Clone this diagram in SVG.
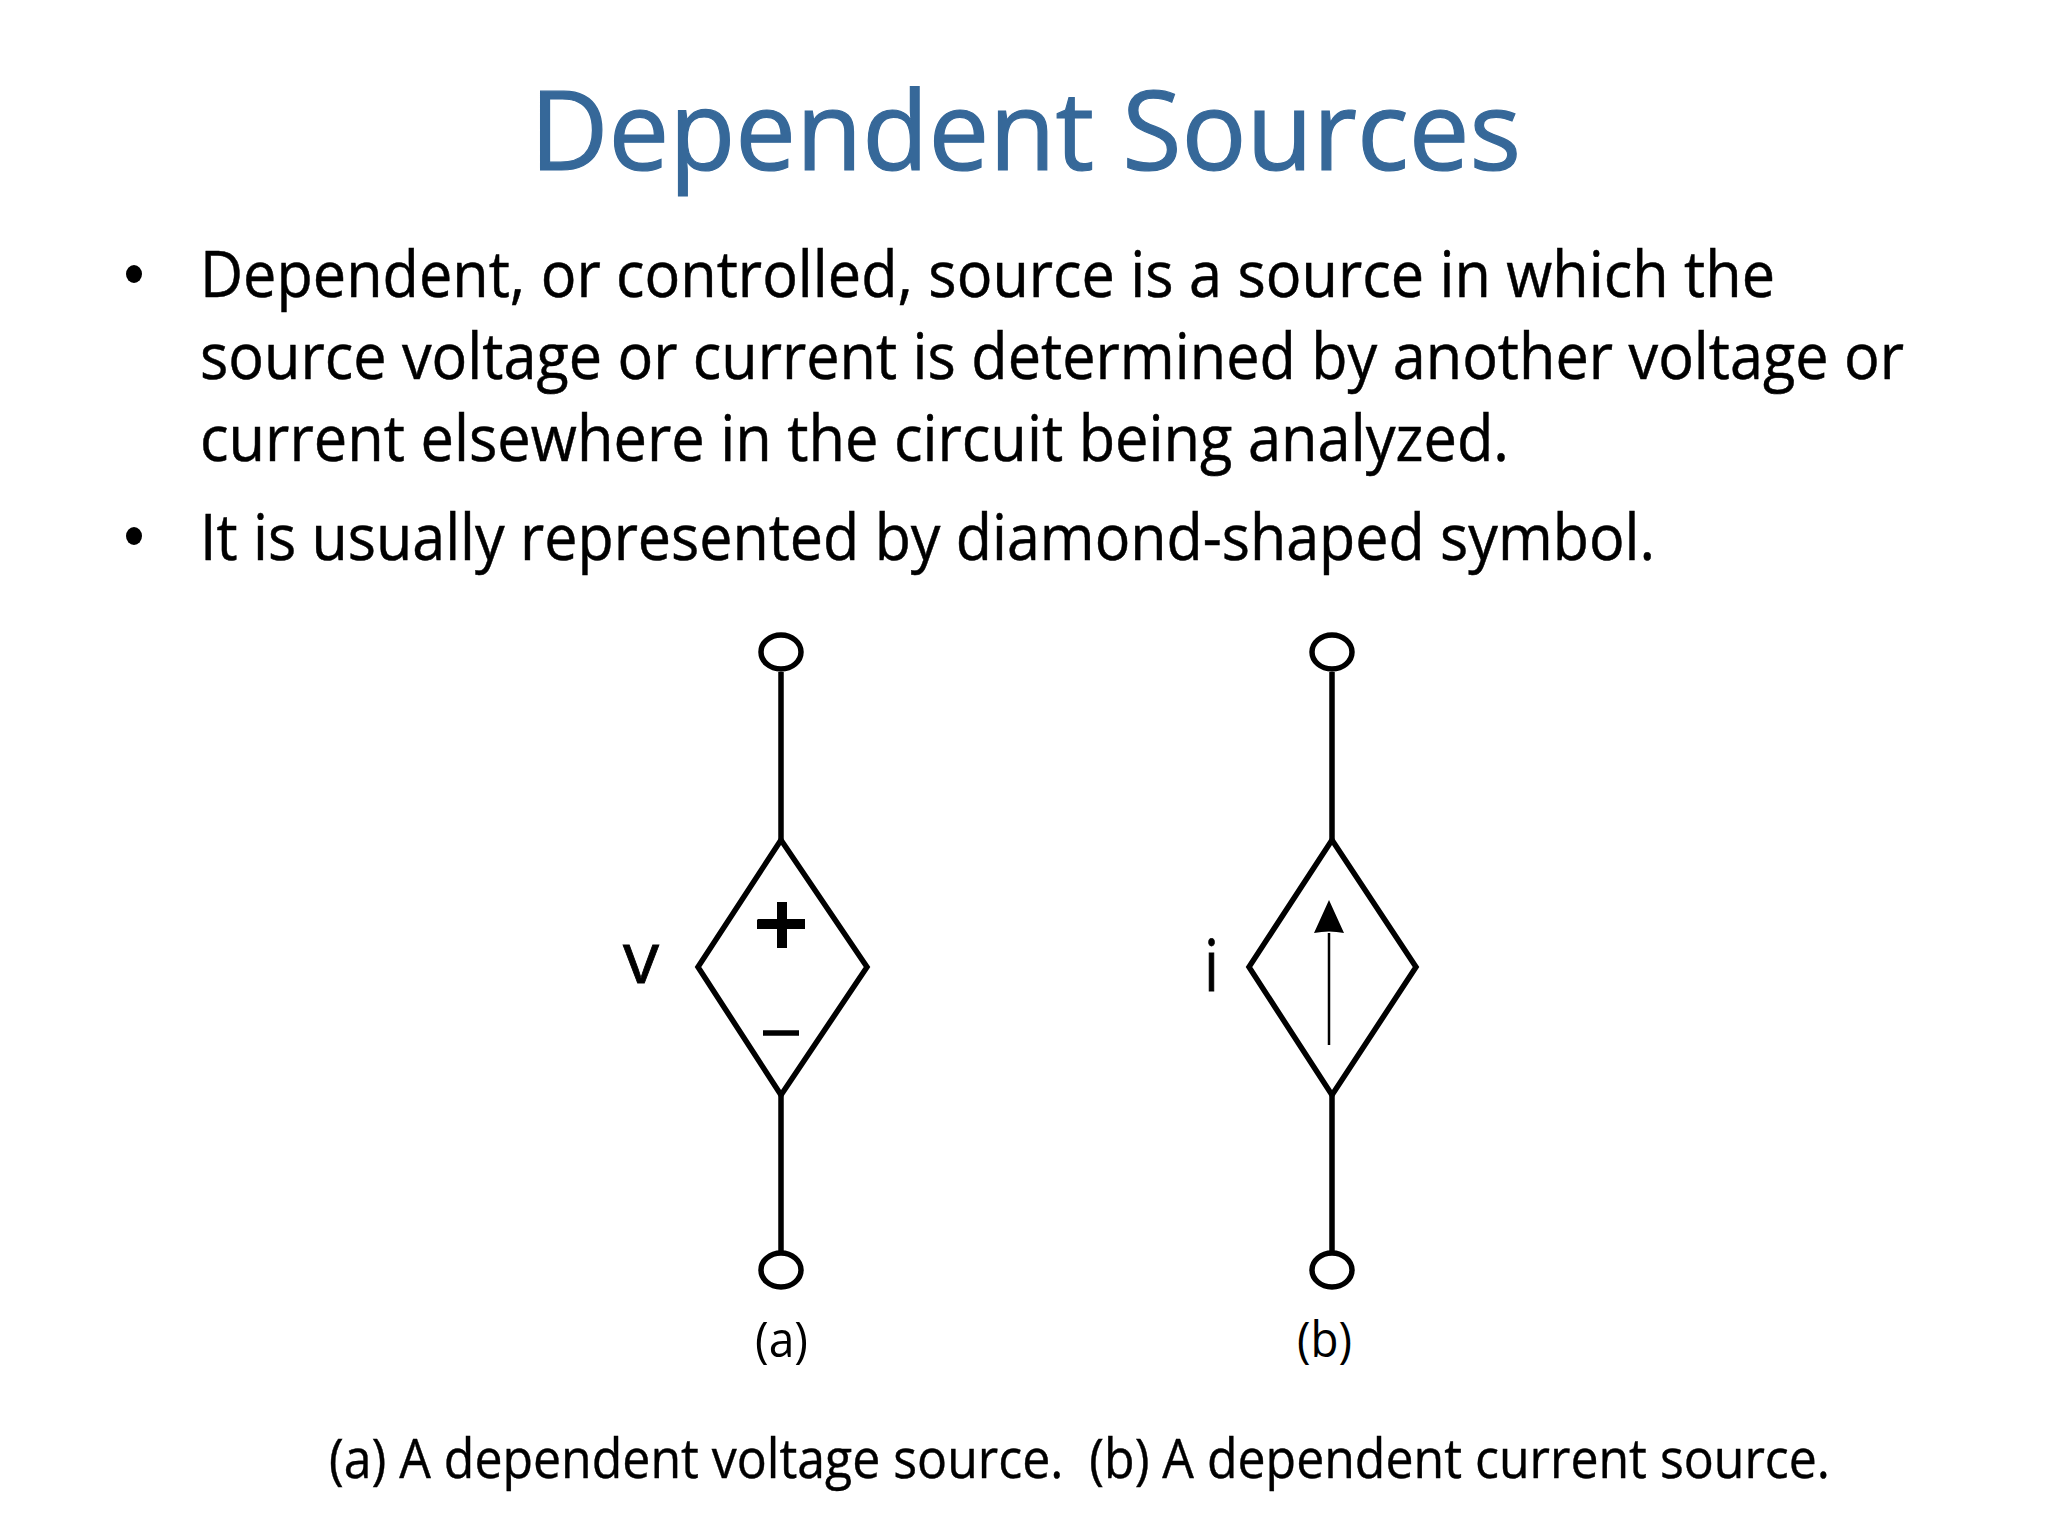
<svg xmlns="http://www.w3.org/2000/svg" width="2048" height="1536" viewBox="0 0 2048 1536">
<style>
text{font-family:"Open Sans","Noto Sans",sans-serif;fill:#000}
.title{font-size:110px;fill:#366899;stroke:#366899;stroke-width:1.2}
.body{font-size:64px;stroke:#000;stroke-width:.5}
.cap{font-size:54px;stroke:#000;stroke-width:.4}
.lab{font-size:50px}
.sym{font-size:72px;stroke:#000;stroke-width:.8}
.w{fill:none;stroke:#000;stroke-width:5.5}
.t{fill:#fff;stroke:#000;stroke-width:5.5}
</style>
<rect width="2048" height="1536" fill="#fff"/>
<text id="title" class="title" x="530" y="170" textLength="991" lengthAdjust="spacingAndGlyphs">Dependent Sources</text>
<g id="bullets">
<ellipse cx="134" cy="274" rx="8" ry="9"/>
<ellipse cx="134" cy="536" rx="8" ry="9"/>
<text class="body" x="200" y="297" textLength="1575" lengthAdjust="spacingAndGlyphs">Dependent, or controlled, source is a source in which the</text>
<text class="body" x="200" y="379" textLength="1704" lengthAdjust="spacingAndGlyphs">source voltage or current is determined by another voltage or</text>
<text class="body" x="200" y="461" textLength="1309" lengthAdjust="spacingAndGlyphs">current elsewhere in the circuit being analyzed.</text>
<text class="body" x="200" y="560" textLength="1455" lengthAdjust="spacingAndGlyphs">It is usually represented by diamond-shaped symbol.</text>
</g>
<g id="connectors">
<path class="w" d="M781 672V840M781 1095V1258"/>
<path class="w" d="M1332 672V840M1332 1095V1258"/>
</g>
<g id="source-a">
<polygon class="w" points="781,840 867,967 781,1095 698,967"/>
<path d="M777 902h10v17h18v10h-18v19h-10v-19h-20v-9l1 -1h19z"/>
<path class="w" d="M763 1033H799"/>
<text class="sym" x="623" y="983" textLength="36" lengthAdjust="spacingAndGlyphs">v</text>
</g>
<g id="source-b">
<polygon class="w" points="1332,840 1416,967 1332,1095 1249,967"/>
<path d="M1329 1045V933" fill="none" stroke="#000" stroke-width="2.5"/>
<path d="M1329 900L1344 933Q1329 930 1314 933z"/>
<text class="sym" x="1204" y="991" textLength="15" lengthAdjust="spacingAndGlyphs">i</text>
</g>
<g id="terminals">
<ellipse class="t" cx="781" cy="652" rx="20" ry="17"/>
<ellipse class="t" cx="781" cy="1270" rx="20" ry="17"/>
<ellipse class="t" cx="1332" cy="652" rx="20" ry="17"/>
<ellipse class="t" cx="1332" cy="1270" rx="20" ry="17"/>
</g>
<g id="captions">
<text class="lab" x="755" y="1357" textLength="53" lengthAdjust="spacingAndGlyphs">(a)</text>
<text class="lab" x="1297" y="1357" textLength="55" lengthAdjust="spacingAndGlyphs">(b)</text>
<text class="cap" x="329" y="1478" textLength="1501" lengthAdjust="spacingAndGlyphs" xml:space="preserve">(a) A dependent voltage source.  (b) A dependent current source.</text>
</g>
</svg>
